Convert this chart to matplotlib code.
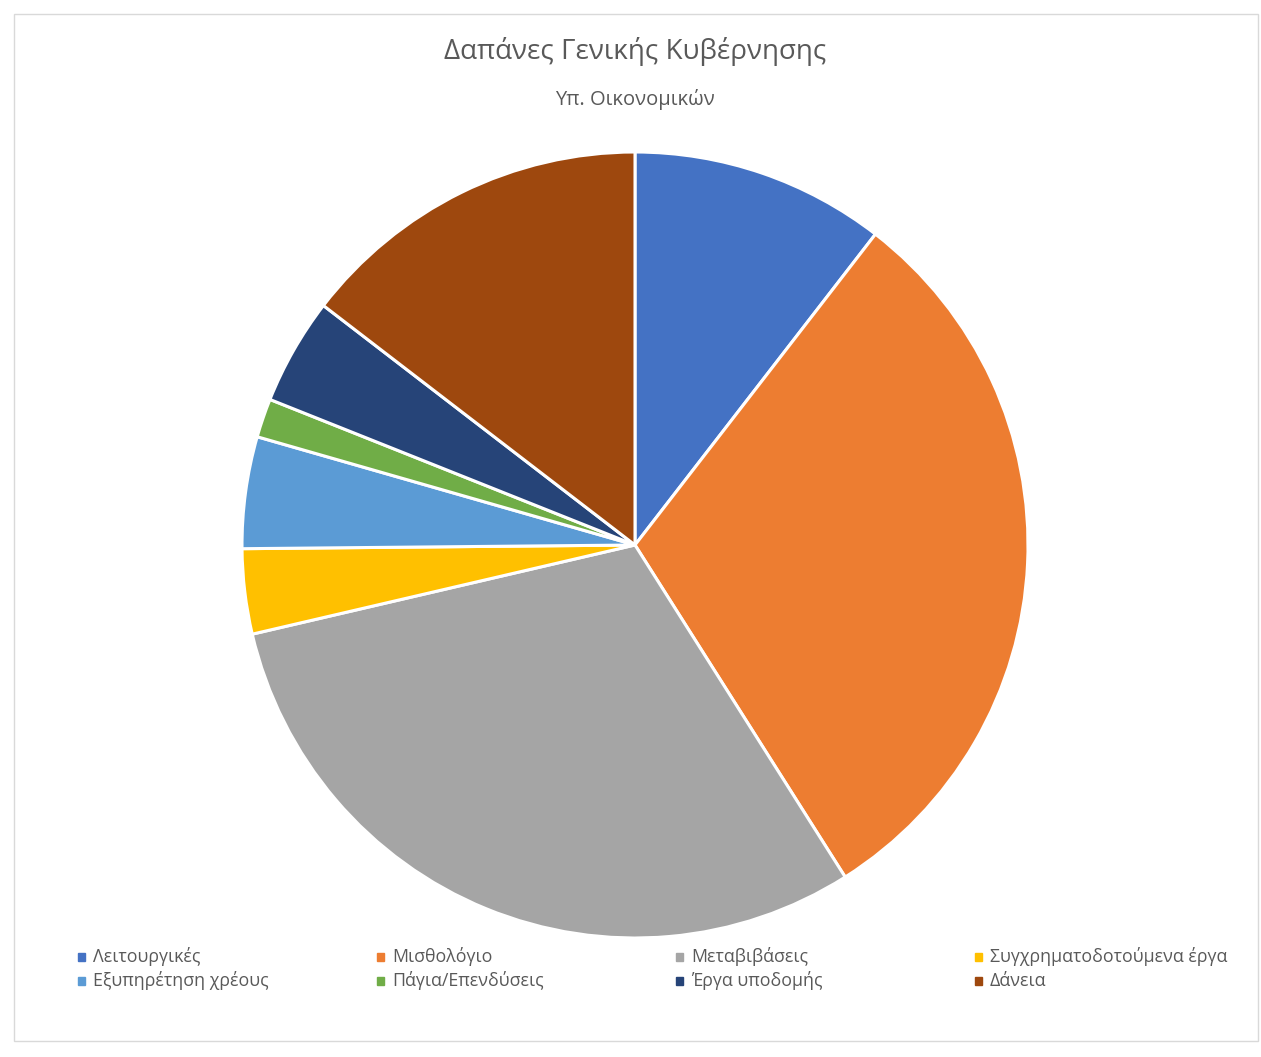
import matplotlib
matplotlib.use("Agg")
import matplotlib.pyplot as plt
from matplotlib.patches import Rectangle

plt.rcParams['font.family'] = ['Open Sans', 'DejaVu Sans']

labels = ['Λειτουργικές', 'Μισθολόγιο', 'Μεταβιβάσεις', 'Συγχρηματοδοτούμενα έργα',
          'Εξυπηρέτηση χρέους', 'Πάγια/Επενδύσεις', 'Έργα υποδομής', 'Δάνεια']
values = [10.5, 30.6, 30.4, 3.5, 4.6, 1.6, 4.4, 14.6]
colors = ['#4472C4', '#ED7D31', '#A5A5A5', '#FFC000',
          '#5B9BD5', '#70AD47', '#264478', '#9E480E']

W, H = 1261, 1057
fig = plt.figure(figsize=(W / 100, H / 100), dpi=100)

# pie centre (635, 545), radius 393 px
cx, cy, r = 635, 545, 393
ax = fig.add_axes([(cx - r) / W, (H - cy - r) / H, 2 * r / W, 2 * r / H])
ax.pie(values, colors=colors, startangle=90, counterclock=False,
       wedgeprops=dict(edgecolor='white', linewidth=2.2))
ax.set_xlim(-1, 1)
ax.set_ylim(-1, 1)
ax.set_aspect('equal')
ax.axis('off')

fig.text(635 / W, 1 - 52 / H, 'Δαπάνες Γενικής Κυβέρνησης', ha='center', va='center',
         fontsize=20, color='#595959')
fig.text(635 / W, 1 - 100 / H, 'Υπ. Οικονομικών', ha='center', va='center',
         fontsize=14.5, color='#595959')

# legend, 4 columns x 2 rows
for i, (lab, col) in enumerate(zip(labels, colors)):
    x = 78 + (i % 4) * 299
    y = 957 + (i // 4) * 24
    fig.patches.append(Rectangle((x / W, 1 - (y + 4) / H), 7 / W, 8 / H,
                                 transform=fig.transFigure, color=col))
    fig.text((x + 15) / W, 1 - y / H, lab, ha='left', va='center',
             fontsize=12.8, color='#595959')

# chart border
fig.patches.append(Rectangle((14 / W, 1 - 1041 / H), 1244 / W, 1027 / H,
                             transform=fig.transFigure, fill=False,
                             edgecolor='#D9D9D9', linewidth=1))

fig.savefig('out.png', dpi=100, facecolor='white')
